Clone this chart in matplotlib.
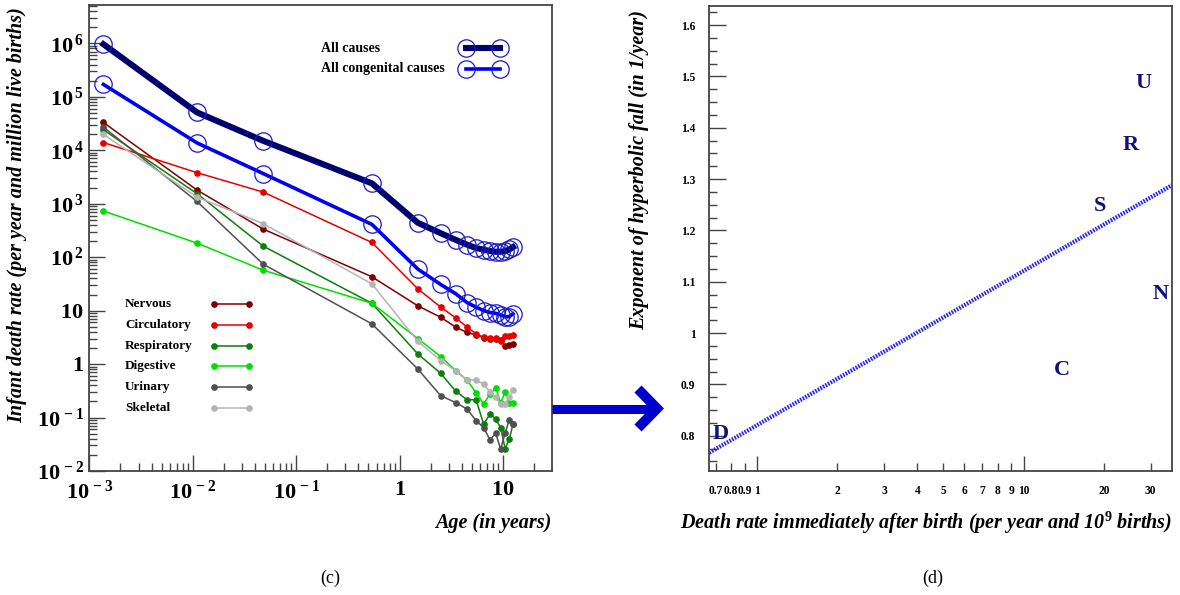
import matplotlib
matplotlib.use('Agg')
import matplotlib.pyplot as plt
import numpy as np
from matplotlib.lines import Line2D
from matplotlib.ticker import FixedLocator, NullFormatter, FixedFormatter, LogLocator

plt.rcParams['font.family'] = ['Liberation Serif', 'DejaVu Serif']
plt.rcParams['mathtext.fontset'] = 'custom'
plt.rcParams['mathtext.rm'] = 'Liberation Serif:bold'
plt.rcParams['mathtext.bf'] = 'Liberation Serif:bold'
plt.rcParams['mathtext.it'] = 'Liberation Serif:bold:italic'

# ---------------- data: panel (c) ----------------
age = [0.00137, 0.011, 0.048, 0.54, 1.5, 2.5, 3.5, 4.5, 5.5, 6.5, 7.5, 8.5, 9.5, 10.5, 11.5, 12.5]
all_causes = [9.6e5, 5.1e4, 1.5e4, 2.4e3, 440, 280, 210, 171, 148, 138, 130, 126, 126, 130, 139, 154]
all_congenital = [1.7e5, 1.37e4, 3.66e3, 410, 60, 30.8, 20.6, 14.1, 11.6, 10.0, 9.2, 8.9, 8.3, 7.7, 7.7, 8.7]
nervous = [3.3e4, 1.8e3, 335, 43, 12.3, 7.5, 4.9, 3.9, 3.5, 3.1, 3.0, 2.9, 2.8, 2.15, 2.3, 2.38]
circulatory = [1.39e4, 3.8e3, 1.65e3, 188, 25.6, 11.6, 7.3, 4.9, 3.7, 3.15, 3.1, 3.1, 2.67, 3.37, 3.4, 3.56]
respiratory = [2.4e4, 1.54e3, 161, 13.7, 1.55, 0.67, 0.31, 0.215, 0.215, 0.075, 0.116, 0.095, 0.064, 0.026, 0.039, 0.075]
digestive = [730, 183, 57, 13.7, 3.0, 1.38, 0.75, 0.50, 0.29, 0.18, 0.275, 0.36, 0.19, 0.30, 0.19, 0.19]
urinary = [2.7e4, 1.1e3, 74, 5.65, 0.81, 0.256, 0.19, 0.144, 0.087, 0.065, 0.038, 0.051, 0.0256, 0.051, 0.09, 0.075]
skeletal = [1.97e4, 1.33e3, 423, 31.7, 2.67, 1.16, 0.75, 0.51, 0.50, 0.42, 0.30, 0.24, 0.18, 0.18, 0.24, 0.33]

cause_names = ['Nervous', 'Circulatory', 'Respiratory', 'Digestive', 'Urinary', 'Skeletal']
cause_series = [nervous, circulatory, respiratory, digestive, urinary, skeletal]
cause_colors = ['#800000', '#e80000', '#0a7f0a', '#00dd00', '#505050', '#b4b4b4']

c_xticks = [1e-3, 1e-2, 1e-1, 1, 10]
c_xticklabels = [r'$10^{\,-3}$', r'$10^{\,-2}$', r'$10^{\,-1}$', r'$1$', r'$10$']
c_yticks = [1e-2, 1e-1, 1, 10, 1e2, 1e3, 1e4, 1e5, 1e6]
c_yticklabels = [r'$10^{\,-2}$', r'$10^{\,-1}$', r'$1$', r'$10$', r'$10^{\,2}$', r'$10^{\,3}$',
                 r'$10^{\,4}$', r'$10^{\,5}$', r'$10^{\,6}$']

# ---------------- data: panel (d) ----------------
letters = ['D', 'C', 'N', 'S', 'R', 'U']
letter_x = [0.732, 13.9, 32.8, 19.4, 25.3, 28.1]
letter_y = [0.803, 0.929, 1.076, 1.248, 1.366, 1.4875]
fit_x = [0.662, 36.0]
fit_y = [0.767, 1.288]
d_xmajor = [1, 10]
d_xminor = [0.7, 0.8, 0.9, 2, 3, 4, 5, 6, 7, 8, 9, 20, 30]
d_yticks = [0.8, 0.9, 1.0, 1.1, 1.2, 1.3, 1.4, 1.5, 1.6]
d_yticklabels = ['0.8', '0.9', '1', '1.1', '1.2', '1.3', '1.4', '1.5', '1.6']

W, H = 1180, 595
fig = plt.figure(figsize=(W / 100, H / 100), dpi=100)

def fx(px):
    return px / W

def fy(py):
    return 1 - py / H

frame_col = '#444444'

# ================= panel (c) =================
axc = fig.add_axes([fx(89.3), fy(471), (551.7 - 89.3) / W, (471 - 5) / H])
axc.set_xscale('log')
axc.set_yscale('log')
axc.set_xlim(1e-3, 29.6)
axc.set_ylim(1e-2, 5.2e6)

for s, col in zip(cause_series, cause_colors):
    axc.plot(age, s, '-', color=col, lw=1.1, marker='o', ms=3.8, mec=col, mfc=col, zorder=2)

axc.plot(age, all_congenital, '-', color='#0000ee', lw=2.6, zorder=3)
axc.plot(age, all_causes, '-', color='#00006e', lw=4.4, zorder=3)
axc.plot(age, all_congenital, 'o', ms=12.5, mfc='none', mec='#1a1acc', mew=0.9, zorder=4)
axc.plot(age, all_causes, 'o', ms=12.5, mfc='none', mec='#1a1acc', mew=0.9, zorder=4)

axc.xaxis.set_major_locator(FixedLocator(c_xticks))
axc.xaxis.set_major_formatter(FixedFormatter(c_xticklabels))
axc.xaxis.set_minor_locator(LogLocator(base=10, subs=np.arange(2, 10), numticks=100))
axc.xaxis.set_minor_formatter(NullFormatter())
axc.yaxis.set_major_locator(FixedLocator(c_yticks))
axc.yaxis.set_major_formatter(FixedFormatter(c_yticklabels))
axc.yaxis.set_minor_locator(LogLocator(base=10, subs=np.arange(2, 10), numticks=100))
axc.yaxis.set_minor_formatter(NullFormatter())

axc.tick_params(which='both', direction='in', top=False, right=False, color=frame_col, width=1.0)
axc.tick_params(which='major', length=11.5, labelsize=16)
axc.tick_params(which='minor', length=5.8)
axc.tick_params(axis='x', which='major', pad=7)
axc.tick_params(axis='y', which='major', pad=4)
for sp in axc.spines.values():
    sp.set_color(frame_col)
    sp.set_linewidth(1.3)

axc.set_xlabel('Age (in years)', fontsize=14.5, fontweight='bold', fontstyle='italic', loc='right')
axc.xaxis.set_label_coords(1.0, -0.09)
axc.set_ylabel('Infant death rate (per year and million live births)', fontsize=14.5,
               fontweight='bold', fontstyle='italic', loc='top')
axc.yaxis.set_label_coords(-0.135, 0.995)

# legend (top)
leg_top = [('All causes', '#00006e', 4.4), ('All congenital causes', '#0000ee', 2.6)]
for i, (lab, col, lw) in enumerate(leg_top):
    yy = 0.9077 - i * 0.045
    axc.text(0.5016, yy, lab, transform=axc.transAxes, fontsize=10, fontweight='bold',
             va='center', ha='left')
    axc.add_line(Line2D([0.8147, 0.8882], [yy, yy], transform=axc.transAxes, color=col, lw=lw,
                        zorder=5))
    axc.add_line(Line2D([0.8147, 0.8882], [yy, yy], transform=axc.transAxes, ls='none',
                        marker='o', ms=12.5, mfc='none', mec='#1a1acc', mew=0.9, zorder=6))
# legend (bottom)
for i, (lab, col) in enumerate(zip(cause_names, cause_colors)):
    yy = 0.3584 - i * 0.04464
    axc.text(0.0773, yy, lab, transform=axc.transAxes, fontsize=9.5, fontweight='bold',
             va='center', ha='left')
    axc.add_line(Line2D([0.2697, 0.3454], [yy, yy], transform=axc.transAxes, color=col, lw=1.1,
                        marker='o', ms=3.8, mfc=col, mec=col))

# ================= panel (d) =================
axd = fig.add_axes([fx(709.3), fy(470.7), (1171.8 - 709.3) / W, (470.7 - 5.7) / H])
axd.set_xscale('log')
axd.set_xlim(0.662, 36.0)
axd.set_ylim(0.732, 1.6376)

axd.plot(fit_x, fit_y, color='#2424ff', lw=3.0, dashes=(0.4, 0.3), solid_capstyle='butt',
         dash_capstyle='butt')
for t, x, y in zip(letters, letter_x, letter_y):
    axd.text(x, y, t, fontsize=16, fontweight='bold', color='#10107a', ha='center', va='center')

axd.xaxis.set_major_locator(FixedLocator(d_xmajor))
axd.xaxis.set_major_formatter(FixedFormatter([str(v) for v in d_xmajor]))
axd.xaxis.set_minor_locator(FixedLocator(d_xminor))
axd.xaxis.set_minor_formatter(FixedFormatter([('%g' % v) for v in d_xminor]))
axd.yaxis.set_major_locator(FixedLocator(d_yticks))
axd.yaxis.set_major_formatter(FixedFormatter(d_yticklabels))
axd.yaxis.set_minor_locator(FixedLocator(list(np.arange(0.75, 1.64, 0.025))))
axd.tick_params(which='both', direction='in', top=False, right=False, color=frame_col, width=1.0,
                labelsize=8.3)
axd.tick_params(axis='x', which='major', length=11, pad=10)
axd.tick_params(axis='x', which='minor', length=5.8, pad=10)
axd.tick_params(axis='y', which='major', length=12, pad=10)
axd.tick_params(axis='y', which='minor', length=5.8)
for lab in axd.get_xticklabels(which='both') + axd.get_yticklabels():
    lab.set_fontweight('bold')
for sp in axd.spines.values():
    sp.set_color(frame_col)
    sp.set_linewidth(1.3)

axd.set_xlabel(r'Death rate immediately after birth (per year and 10$^{\mathit{9}}$ births)',
               fontsize=14.5, fontweight='bold', fontstyle='italic', loc='right')
axd.xaxis.set_label_coords(1.0, -0.085)
axd.set_ylabel('Exponent of hyperbolic fall (in 1/year)', fontsize=14.5, fontweight='bold',
               fontstyle='italic', loc='top')
axd.yaxis.set_label_coords(-0.13, 0.99)

# captions
fig.text(fx(330), fy(578), '(c)', fontsize=13, ha='center', va='center')
fig.text(fx(933), fy(578), '(d)', fontsize=13, ha='center', va='center')

# arrow between panels
arrow_col = '#0000cc'
fig.add_artist(Line2D([fx(552), fx(656)], [fy(408.5), fy(408.5)], transform=fig.transFigure,
                      color=arrow_col, lw=6.5, solid_capstyle='butt'))
fig.add_artist(Line2D([fx(638), fx(657), fx(638)], [fy(389), fy(408.5), fy(428)],
                      transform=fig.transFigure, color=arrow_col, lw=7.2,
                      solid_joinstyle='miter', solid_capstyle='butt'))

fig.savefig('out.png', dpi=100)
